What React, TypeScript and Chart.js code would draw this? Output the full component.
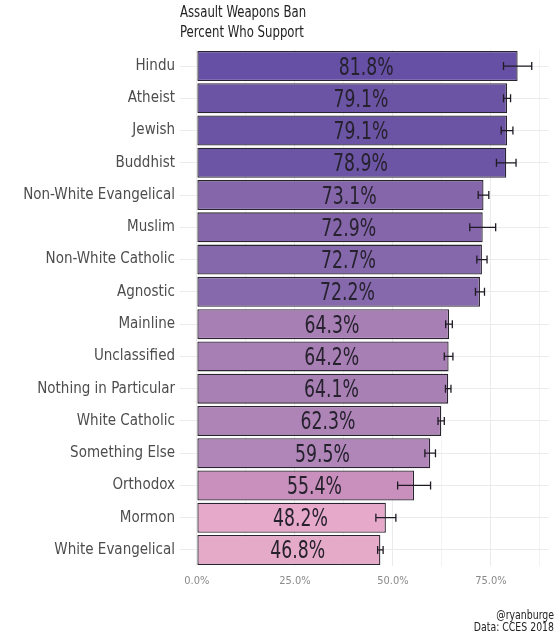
import React, { useEffect, useRef } from 'react';
import { Chart, registerables } from 'chart.js';

Chart.register(...registerables);

const categories = [
  'Hindu', 'Atheist', 'Jewish', 'Buddhist', 'Non-White Evangelical', 'Muslim',
  'Non-White Catholic', 'Agnostic', 'Mainline', 'Unclassified', 'Nothing in Particular',
  'White Catholic', 'Something Else', 'Orthodox', 'Mormon', 'White Evangelical',
];
const values = [81.8, 79.1, 79.1, 78.9, 73.1, 72.9, 72.7, 72.2, 64.3, 64.2, 64.1, 62.3, 59.5, 55.4, 48.2, 46.8];
const errors = [3.6, 0.9, 1.5, 2.5, 1.35, 3.3, 1.3, 1.15, 0.85, 1.1, 0.7, 0.8, 1.35, 4.2, 2.55, 0.7];
const xTicks = [0, 25, 50, 75];
const minorTicks = [12.5, 37.5, 62.5, 87.5];
const titleLines = ['Assault Weapons Ban', 'Percent Who Support'];
const captionLines = ['@ryanburge', 'Data: CCES 2018'];

const barColors = [
  '#6650a6', '#6b54a4', '#6b54a4', '#6b55a4', '#8566ab', '#8566ab', '#8567ab', '#8668ac',
  '#a77fb4', '#a87fb4', '#a880b4', '#ae83b6', '#b086b8', '#c990bd', '#e6a9c9', '#e6aac9',
];

const FONT = '"DejaVu Sans Condensed", "Liberation Sans Narrow", Roboto, sans-serif';

function drawText(ctx: CanvasRenderingContext2D, text: string, x: number, y: number, sx: number) {
  ctx.save();
  ctx.translate(x, y);
  ctx.scale(sx, 1);
  ctx.fillText(text, 0, 0);
  ctx.restore();
}

const overlayPlugin = {
  id: 'overlay',
  afterDatasetsDraw(chart: any) {
    const { ctx, scales } = chart;
    const xs = scales.x;
    const meta = chart.getDatasetMeta(0);
    ctx.save();
    // error bars
    ctx.strokeStyle = '#1f1a24';
    ctx.lineWidth = 1.3;
    meta.data.forEach((bar: any, i: number) => {
      const y = bar.y;
      const lo = xs.getPixelForValue(values[i] - errors[i]);
      const hi = xs.getPixelForValue(values[i] + errors[i]);
      ctx.beginPath();
      ctx.moveTo(lo, y);
      ctx.lineTo(hi, y);
      ctx.moveTo(lo, y - 4);
      ctx.lineTo(lo, y + 4);
      ctx.moveTo(hi, y - 4);
      ctx.lineTo(hi, y + 4);
      ctx.stroke();
    });
    // value labels
    ctx.fillStyle = '#25212d';
    ctx.font = `24px ${FONT}`;
    ctx.textAlign = 'center';
    ctx.textBaseline = 'alphabetic';
    meta.data.forEach((bar: any, i: number) => {
      const x = xs.getPixelForValue(values[i] / 2) + 9;
      drawText(ctx, values[i].toFixed(1) + '%', x, bar.y + 8.5, 0.8);
    });
    // title
    ctx.fillStyle = '#222';
    ctx.font = `15.5px ${FONT}`;
    ctx.textAlign = 'left';
    drawText(ctx, titleLines[0], 180, 17, 0.84);
    drawText(ctx, titleLines[1], 180, 37, 0.84);
    // caption
    ctx.font = `13px ${FONT}`;
    ctx.textAlign = 'right';
    drawText(ctx, captionLines[0], 554, 618.5, 0.8);
    drawText(ctx, captionLines[1], 554, 631, 0.8);
    ctx.restore();
  },
};

export default function App() {
  const ref = useRef<HTMLCanvasElement>(null);
  useEffect(() => {
    document.body.style.margin = '0';
    const chart = new Chart(ref.current as HTMLCanvasElement, {
      type: 'bar',
      data: {
        labels: categories,
        datasets: [
          {
            data: values,
            backgroundColor: barColors,
            borderColor: '#2a2430',
            borderWidth: 1.3,
            borderSkipped: false,
            barPercentage: 0.93,
            categoryPercentage: 1,
          },
        ],
      },
      options: {
        indexAxis: 'y',
        animation: false,
        responsive: false,
        devicePixelRatio: 1,
        layout: { padding: { top: 49.9, right: 11.4, bottom: 0, left: 0 } },
        plugins: { legend: { display: false }, tooltip: { enabled: false }, title: { display: false } },
        scales: {
          x: {
            type: 'linear',
            min: -4.3,
            max: 89.7,
            afterBuildTicks: (s: any) => {
              s.ticks = [...xTicks, ...minorTicks].sort((a, b) => a - b).map((v) => ({ value: v }));
            },
            afterFit: (s: any) => {
              s.height = 73.9;
            },
            ticks: {
              autoSkip: false,
              maxRotation: 0,
              padding: 8,
              color: '#8a8a8a',
              font: { family: FONT, size: 11 },
              callback: (v: any) => (xTicks.includes(Number(v)) ? Number(v).toFixed(1) + '%' : ''),
            },
            grid: {
              drawTicks: false,
              color: (c: any) => (c.tick && minorTicks.includes(c.tick.value) ? '#f3f3f3' : '#ebebeb'),
              lineWidth: 1,
            },
            border: { display: false },
          },
          y: {
            type: 'category',
            afterFit: (s: any) => {
              s.width = 180;
            },
            ticks: {
              padding: 5,
              color: '#4d4d4d',
              font: { family: FONT, size: 15 },
            },
            grid: { offset: false, drawTicks: false, color: '#ebebeb' },
            border: { display: false },
          },
        },
      },
      plugins: [overlayPlugin],
    } as any);
    return () => chart.destroy();
  }, []);
  return (
    <div style={{ width: 560, height: 640, background: '#fff' }}>
      <canvas ref={ref} width={560} height={640} style={{ display: 'block' }} />
    </div>
  );
}
